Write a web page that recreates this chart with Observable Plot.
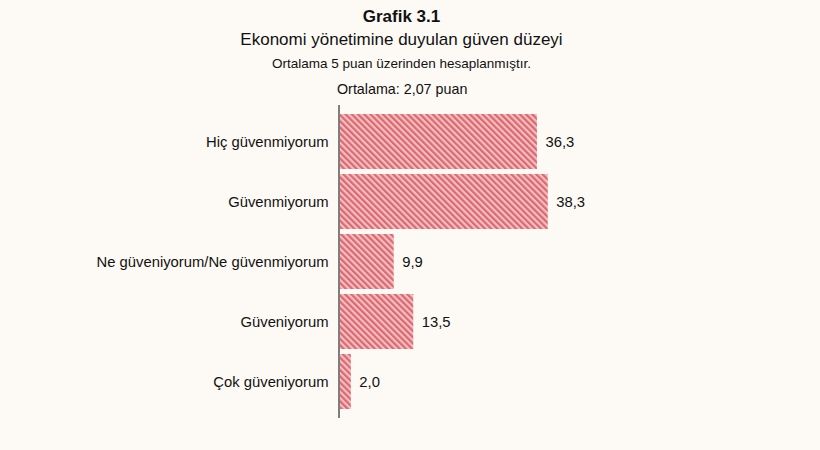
<!DOCTYPE html>
<html><head><meta charset="utf-8">
<script src="https://cdn.jsdelivr.net/npm/d3@7"></script>
<script src="https://cdn.jsdelivr.net/npm/@observablehq/plot@0.6"></script>
<style>
html,body{margin:0;padding:0;background:#fdfaf5;width:820px;height:450px;overflow:hidden;font-family:"Liberation Sans",Arial,sans-serif;color:#111;}
#wrap{position:relative;width:820px;height:450px;}
.h{position:absolute;left:0;width:803px;text-align:center;white-space:nowrap;}
#t1{top:7px;font-size:17px;font-weight:bold;}
#t2{top:30px;font-size:17px;}
#t3{top:56px;font-size:13.5px;}
#t4{position:absolute;left:337px;top:81px;font-size:14.3px;white-space:nowrap;}
#chart{position:absolute;left:0;top:100px;}
</style></head>
<body><div id="wrap">
<div class="h" id="t1">Grafik 3.1</div>
<div class="h" id="t2">Ekonomi yönetimine duyulan güven düzeyi</div>
<div class="h" id="t3">Ortalama 5 puan üzerinden hesaplanmıştır.</div>
<div id="t4">Ortalama: 2,07 puan</div>
<div id="chart"></div>
</div>
<script>
const categories = ["Hiç güvenmiyorum","Güvenmiyorum","Ne güveniyorum/Ne güvenmiyorum","Güveniyorum","Çok güveniyorum"];
const values = [36.3, 38.3, 9.9, 13.5, 2.0];
const valueLabels = ["36,3","38,3","9,9","13,5","2,0"];

const data = categories.map((c,i)=>({cat:c, v:values[i], label:valueLabels[i]}));

const plot = Plot.plot({
  width: 820,
  height: 350,
  marginLeft: 340,
  marginRight: 46,
  marginTop: 5,
  marginBottom: 32,
  style: {background:"transparent", fontFamily:"'Liberation Sans', Arial, sans-serif"},
  x: {domain:[0,80], axis:null},
  y: {domain:categories, paddingInner:0.08, paddingOuter:0.14, axis:null},
  marks: [
    Plot.barX(data, {y:"cat", x:"v", fill:"url(#hatch)"}),
    Plot.ruleX([0], {stroke:"#555", strokeWidth:1.5, dx:-1.5}),
    Plot.text(data, {y:"cat", text:"cat", frameAnchor:"left", textAnchor:"end", dx:-12, fontSize:14.8, fill:"#111"}),
    Plot.text(data, {y:"cat", x:"v", text:"label", textAnchor:"start", dx:8, fontSize:14.8, fill:"#111"})
  ]
});
const svg = d3.select(plot);
const defs = svg.insert("defs", ":first-child");
const p = defs.append("pattern").attr("id","hatch").attr("patternUnits","userSpaceOnUse")
  .attr("width",4.4).attr("height",10).attr("patternTransform","rotate(-45)");
p.append("rect").attr("width",4.4).attr("height",10).attr("fill","#f5bfc0");
p.append("rect").attr("width",2.2).attr("height",10).attr("fill","#da6870");
document.getElementById("chart").appendChild(plot);
</script>
</body></html>
